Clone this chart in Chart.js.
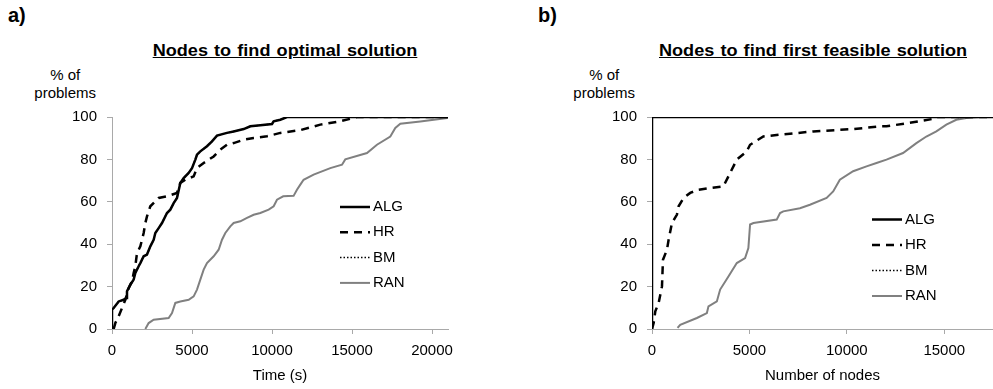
<!DOCTYPE html>
<html>
<head>
<meta charset="utf-8">
<script src="https://cdn.jsdelivr.net/npm/chart.js@4"></script>
<style>
  body { margin: 0; background: #fff; font-family: 'Liberation Sans', Arial, sans-serif; color: #000; }
  #wrap { position: relative; width: 993px; height: 389px; overflow: hidden; }
  .box { position: absolute; top: 0; height: 389px; }
  .tag { position: absolute; top: 5px; font-weight: bold; font-size: 20px; line-height: 1; }
  .ttl { position: absolute; top: 43px; font-weight: bold; font-size: 16px; line-height: 1; white-space: nowrap;
         text-decoration: underline; transform: translateX(-50%) scaleX(1.13); word-spacing: 1px; }
  .ylab { position: absolute; top: 66px; font-size: 15px; line-height: 18px; text-align: center; }
</style>
</head>
<body>
<div id="wrap">
  <div class="tag" style="left:8px">a)</div>
  <div class="tag" style="left:538px">b)</div>
  <div class="ttl" style="left:285px">Nodes to find optimal solution</div>
  <div class="ttl" style="left:813px">Nodes to find first feasible solution</div>
  <div class="ylab" style="right:897px">% of<br>problems</div>
  <div class="ylab" style="right:358px">% of<br>problems</div>
  <div class="box" style="left:0;width:496px"><canvas id="chartA"></canvas></div>
  <div class="box" style="left:496px;width:497px"><canvas id="chartB"></canvas></div>
</div>
<script>
// series names
const seriesNames = ['ALG', 'HR', 'BM', 'RAN'];
const yTicks = [0, 20, 40, 60, 80, 100];
const xTicksTime = [0, 5000, 10000, 15000, 20000];
const xTicksNodes = [0, 5000, 10000, 15000];

// a) time to optimal solution (s) vs % of problems
const algTimeX = [0, 0, 104, 417, 729, 896, 937, 1146, 1354, 1458, 1666, 1771, 1979, 2187, 2396, 2604, 2708, 2916, 3125, 3437, 3645, 3854, 4062, 4270, 4479, 4791, 5000, 5208, 5312, 5520, 5937, 6250, 6562, 7187, 7604, 8229, 8645, 9270, 10000, 10104, 10520, 10937, 21000];
const algTimeY = [0, 9.1, 9.9, 13, 13.8, 14.6, 17.8, 20.9, 23.3, 26.4, 29.6, 31.1, 34.3, 35.1, 39, 42.1, 45.3, 47.6, 50, 54.7, 56.3, 59.4, 61.8, 68.9, 71.2, 73.6, 75.9, 79.9, 82.2, 83.8, 86.2, 88.5, 91.2, 92.5, 93.2, 94.3, 95.6, 96.1, 96.7, 98, 98.7, 100, 100];
const hrTimeX = [104, 208, 417, 625, 833, 1041, 1250, 1354, 1458, 1562, 1771, 1979, 2083, 2187, 2396, 2916, 3437, 4062, 4270, 4583, 5104, 5312, 5729, 6354, 6770, 7187, 7604, 8229, 8854, 9687, 10520, 11770, 13020, 14270, 15080, 15300, 21000];
const hrTimeY = [0, 2.8, 6, 9.9, 13.8, 19.3, 22.5, 26.4, 29.6, 35.8, 39, 45.3, 50, 53.1, 57.9, 61.8, 62.6, 64.2, 68.9, 70.4, 72, 75.9, 78.3, 81.4, 84.6, 86.9, 87.7, 89.3, 90.1, 90.9, 92.5, 93.8, 96.4, 98, 99.5, 100, 100];
const bmTimeX = algTimeX.slice();
const bmTimeY = algTimeY.slice();
const ranTimeX = [2083, 2291, 2604, 3541, 3750, 3958, 4270, 4791, 5104, 5312, 5520, 5729, 5937, 6354, 6666, 6875, 7083, 7395, 7604, 8020, 8437, 8854, 9270, 9791, 10104, 10312, 10700, 11350, 11560, 11770, 11975, 12600, 13644, 14375, 14580, 15937, 16560, 17394, 17706, 18019, 19270, 20937, 21000];
const ranTimeY = [0, 2.8, 4.4, 5.2, 7.5, 12.3, 13, 13.8, 15.4, 18.6, 23.3, 28, 31.1, 34.3, 37.4, 42.1, 45.3, 48.4, 50, 50.8, 52.4, 53.9, 54.7, 56.3, 57.9, 61, 62.6, 62.8, 65.7, 68.1, 70.4, 72.8, 75.9, 77.5, 80, 83, 86.9, 90.8, 94.8, 96.8, 97.9, 99.5, 100];

// b) nodes to first feasible solution vs % of problems
const algNodesX = [0, 0, 17500];
const algNodesY = [0, 100, 100];
const hrNodesX = [0, 85, 169, 341, 512, 563, 768, 853, 1024, 1280, 1365, 1621, 1961, 2390, 2987, 3666, 4009, 4352, 4864, 5033, 5714, 6567, 7084, 8275, 10323, 11690, 12033, 13395, 14419, 14600, 17500];
const hrNodesY = [0, 2.8, 8.3, 12.3, 20.1, 32.7, 37.4, 42.1, 50, 54, 57.9, 61.8, 64.2, 65.7, 66.5, 67.3, 73.6, 79.9, 83.8, 86.9, 90.8, 91.7, 92.1, 93.2, 94.3, 95.6, 95.6, 97.5, 99.1, 100, 100];
const bmNodesX = algNodesX.slice();
const bmNodesY = algNodesY.slice();
const ranNodesX = [1311, 1449, 2304, 2816, 2898, 3328, 3497, 3922, 4352, 4777, 4946, 5033, 5206, 6400, 6572, 6738, 7593, 8105, 8961, 9298, 9641, 10323, 11009, 11521, 12033, 12883, 13568, 14080, 14593, 15105, 15617, 16129, 16810, 17500];
const ranNodesY = [0.5, 2, 5.2, 7.5, 10.7, 13, 18.6, 24.8, 31.1, 33.5, 38.2, 49.3, 50, 51.6, 54.7, 55.5, 57, 58.6, 61.8, 64.9, 70.4, 74.4, 76.7, 78.3, 79.9, 83, 87.7, 90.8, 93.2, 96.4, 98.7, 99.5, 100, 100];

const pts = (xs, ys) => xs.map((x, i) => ({ x, y: ys[i] }));
const FONT = "'Liberation Sans', Arial, sans-serif";
const AXIS = '#a9a9a9';

const styles = [
  { borderColor: '#000', borderWidth: 2.5, borderDash: [] },
  { borderColor: '#000', borderWidth: 2.5, borderDash: [8, 6] },
  { borderColor: '#000', borderWidth: 1.5, borderDash: [1.5, 2] },
  { borderColor: '#808080', borderWidth: 2, borderDash: [] }
];

// legend drawn inside the plot: short line sample + label
const lineLegend = {
  id: 'lineLegend',
  afterDatasetsDraw(chart, args, opts) {
    const ctx = chart.ctx;
    chart.data.datasets.forEach((ds, i) => {
      const y = opts.y + i * opts.gap;
      ctx.save();
      ctx.strokeStyle = ds.borderColor;
      ctx.lineWidth = ds.borderWidth;
      ctx.setLineDash(ds.borderDash || []);
      ctx.beginPath(); ctx.moveTo(opts.x, y); ctx.lineTo(opts.x + 30, y); ctx.stroke();
      ctx.setLineDash([]);
      ctx.fillStyle = '#000';
      ctx.font = '15px ' + FONT;
      ctx.textBaseline = 'middle';
      ctx.fillText(ds.label, opts.x + 33, y);
      ctx.restore();
    });
  }
};

const makeChart = (id, { series, xMax, xTicks, xTitle, yWidth, pad, legend }) => {
  return new Chart(document.getElementById(id), {
    type: 'line',
    data: {
      datasets: series.map((s, i) => ({ label: seriesNames[i], data: s, ...styles[i], pointRadius: 0, tension: 0, fill: false }))
    },
    options: {
      responsive: true, maintainAspectRatio: false, animation: false,
      layout: { padding: pad },
      plugins: { legend: { display: false }, tooltip: { enabled: false }, lineLegend: legend },
      scales: {
        x: {
          type: 'linear', min: 0, max: xMax,
          afterFit: s => { s.height = 60; },
          afterBuildTicks: s => { s.ticks = xTicks.map(v => ({ value: v })); },
          grid: { drawOnChartArea: false, drawTicks: true, tickLength: 5, color: AXIS },
          border: { color: AXIS },
          ticks: { padding: 8, color: '#000', font: { family: FONT, size: 15 }, callback: v => String(v), maxRotation: 0 },
          title: { display: true, text: xTitle, color: '#000', font: { family: FONT, size: 15 }, padding: { top: 0, bottom: 4 } }
        },
        y: {
          min: 0, max: 100,
          afterFit: s => { s.width = yWidth; },
          afterBuildTicks: s => { s.ticks = yTicks.map(v => ({ value: v })); },
          grid: { drawOnChartArea: false, drawTicks: true, tickLength: 5, color: AXIS },
          border: { color: AXIS },
          ticks: { padding: 10, color: '#000', font: { family: FONT, size: 15 } }
        }
      }
    },
    plugins: [lineLegend]
  });
};

makeChart('chartA', {
  series: [pts(algTimeX, algTimeY), pts(hrTimeX, hrTimeY), pts(bmTimeX, bmTimeY), pts(ranTimeX, ranTimeY)],
  xMax: 21000, xTicks: xTicksTime, xTitle: 'Time (s)', yWidth: 112,
  pad: { top: 117, right: 48, left: 0, bottom: 0 },
  legend: { x: 340, y: 207, gap: 25.3 }
});

makeChart('chartB', {
  series: [pts(algNodesX, algNodesY), pts(hrNodesX, hrNodesY), pts(bmNodesX, bmNodesY), pts(ranNodesX, ranNodesY)],
  xMax: 17500, xTicks: xTicksNodes, xTitle: 'Number of nodes', yWidth: 156,
  pad: { top: 117, right: 0, left: 0, bottom: 0 },
  legend: { x: 376, y: 219.5, gap: 25.5 }
});
</script>
</body>
</html>
